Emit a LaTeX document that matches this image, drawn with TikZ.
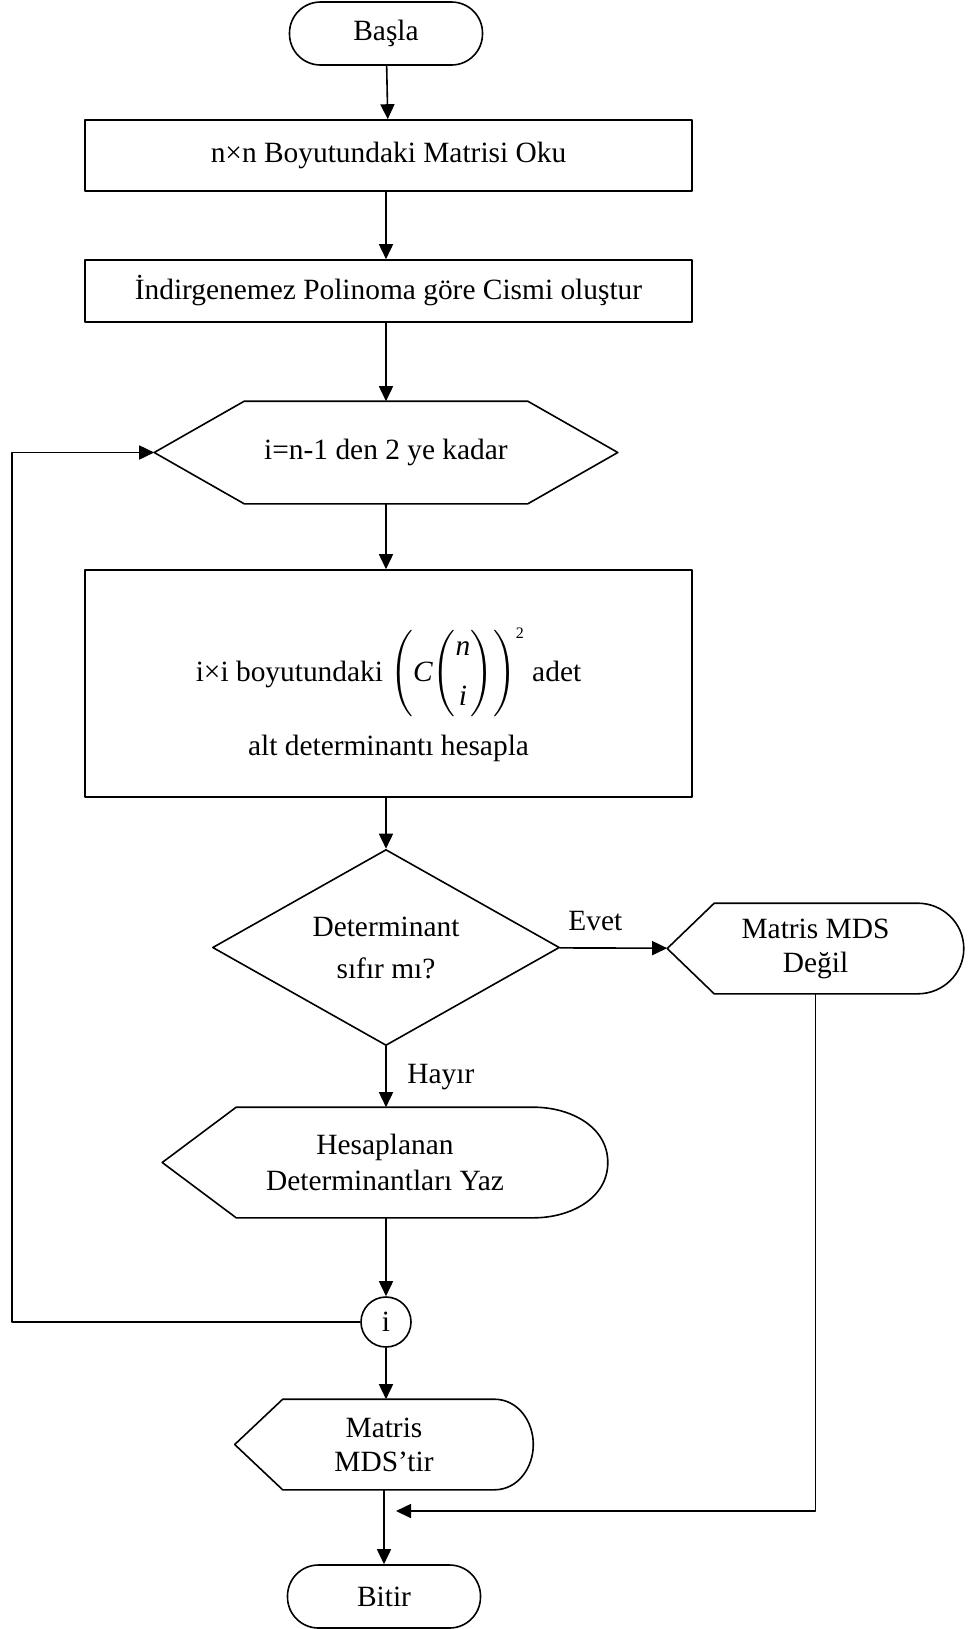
\documentclass[tikz,border=0pt]{standalone}
\usepackage{amsmath}
\usepackage{fontspec}
\setmainfont{Liberation Serif}
\usetikzlibrary{shapes.geometric,arrows.meta}
\begin{document}
\begin{tikzpicture}[x=0.5pt,y=-0.5pt,line width=0.8pt,line join=round,>={Triangle[length=7.5pt,width=7pt]},
	font=\fontsize{14.7}{17}\selectfont,
	term/.style={draw,rectangle,rounded corners=15.5pt,minimum width=96.5pt,minimum height=31.5pt,inner sep=0pt},
	proc/.style={draw,rectangle,minimum width=303.5pt,inner sep=0pt,align=center},
	decis/.style={draw,diamond,aspect=1.77,minimum width=173.5pt,minimum height=98pt,inner sep=0pt,align=center},
	disp/.style={rectangle,minimum width=#1,inner sep=0pt,align=center},
	conn/.style={draw,circle,minimum size=25pt,inner sep=0pt}]
	\def\dispyol#1#2#3{\draw (#1.west) -- ([xshift=#2]#1.north west) -- ([xshift=-#3]#1.north east) to[out=0,in=90] (#1.east) to[out=-90,in=0] ([xshift=-#3]#1.south east) -- ([xshift=#2]#1.south west) -- cycle;}
	\useasboundingbox (0,0) rectangle (972,1629);
	\node[term] (basla) at (386,33.5) {Başla};
	\node[proc,minimum height=35.5pt] (oku) at (388.5,155.5) {n×n Boyutundaki Matrisi Oku};
	\node[proc,minimum height=31pt] (cisim) at (388.5,291) {İndirgenemez Polinoma göre Cismi oluştur};
	\node[disp=231pt,minimum height=50.5pt] (dongu) at (386,452.5) {i=n-1 den 2 ye kadar};
	\draw (dongu.west) -- ([xshift=45pt]dongu.north west) -- ([xshift=-45pt]dongu.north east) -- (dongu.east)
		-- ([xshift=-45pt]dongu.south east) -- ([xshift=45pt]dongu.south west) -- cycle;
	\node[proc,minimum height=113.5pt] (hesap) at (388.5,683.5) {\rule{0pt}{38pt}i×i boyutundaki $\left(\mbox{\itshape C}\Biggl(\begin{array}{@{}c@{}}\mbox{\itshape n}\\[8pt]\mbox{\itshape i}\end{array}\Biggr)\right)^{\mbox{\footnotesize 2}}$ adet\\[8pt]alt determinantı hesapla};
	\node[decis] (karar) at (386,947.5) {Determinant\\[4pt]sıfır mı?};
	\node[disp=147.5pt,minimum height=44.5pt] (degil) at (815.5,948.5) {Matris MDS\\Değil};
	\dispyol{degil}{23.5pt}{23pt}
	\node[disp=222pt,minimum height=54.5pt] (yaz) at (385,1162.5) {Hesaplanan\\[1pt]Determinantları Yaz};
	\dispyol{yaz}{37pt}{37pt}
	\node[conn] (i) at (386,1322) {i};
	\node[disp=148.5pt,minimum height=44.5pt] (mds) at (384,1444.5) {Matris\\MDS’tir};
	\dispyol{mds}{24pt}{19.5pt}
	\node[term] (bitir) at (384,1596.5) {Bitir};
	\coordinate (solkose) at (12,1322);
	\coordinate (donus) at (396,1511);
	\draw[->] (basla) -- (oku);
	\draw[->] (oku.south -| basla) -- (cisim.north -| basla);
	\draw[->] (cisim.south -| basla) -- (dongu.north);
	\draw[->] (dongu.south) -- (hesap.north -| dongu);
	\draw[->] (hesap.south -| karar) -- (karar.north);
	\draw[->] (karar) -- node[midway,above=5pt,xshift=-9pt] {Evet} (degil);
	\draw[->] (karar.south) -- node[midway,right=7pt] {Hayır} (karar.south |- yaz.north);
	\draw[->] (yaz.south -| i) -- (i);
	\draw[->] (i) -- (i |- mds.north);
	\draw[->] (mds.south -| bitir) -- (bitir);
	\draw[->] (i) -- (solkose) |- (dongu.west);
	\draw[->] (degil.south) |- (donus);
\end{tikzpicture}
\end{document}
